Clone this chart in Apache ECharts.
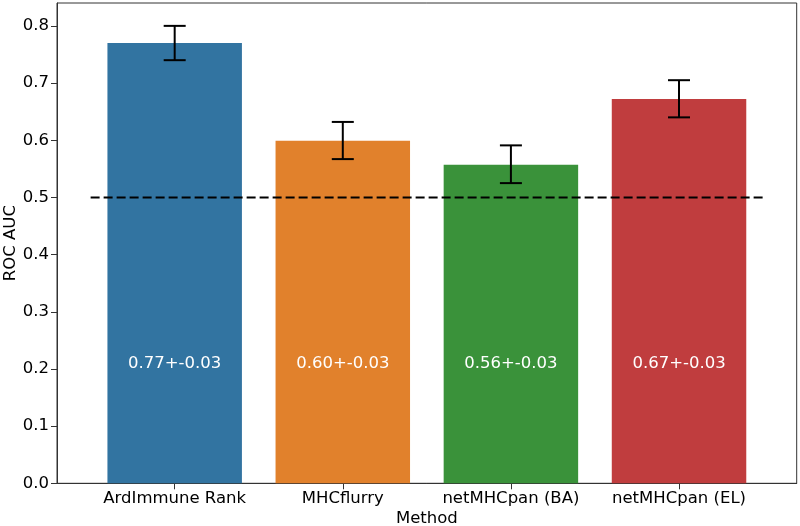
<!DOCTYPE html>
<html>
<head>
<meta charset="utf-8">
<script src="https://cdn.jsdelivr.net/npm/echarts@6/dist/echarts.min.js"></script>
<style>html,body{margin:0;padding:0;background:#fff;}#c{width:800px;height:526px;}</style>
</head>
<body>
<div id="c"></div>
<script>
const categories = ['ArdImmune Rank', 'MHCflurry', 'netMHCpan (BA)', 'netMHCpan (EL)'];
const aucValues = [0.770, 0.599, 0.557, 0.672];
const errLower = [0.740, 0.567, 0.525, 0.640];
const errUpper = [0.800, 0.632, 0.591, 0.705];
const valueLabels = ['0.77+-0.03', '0.60+-0.03', '0.56+-0.03', '0.67+-0.03'];
const barColors = ['#3274a1', '#e1812c', '#3a923a', '#c03d3e'];
const yTicks = [0, 0.1, 0.2, 0.3, 0.4, 0.5, 0.6, 0.7, 0.8];
const xTicks = [0, 1, 2, 3];
const chanceLevel = 0.5;
const labelLevel = 0.2;

const FONT = 'DejaVu Sans';
const FS = 16.5;

const chart = echarts.init(document.getElementById('c'), null, {renderer: 'canvas'});

const barData = aucValues.map((v, i) => [i, v]);
const errData = aucValues.map((v, i) => [i, errLower[i], errUpper[i]]);
const lblData = aucValues.map((v, i) => [i, labelLevel]);

chart.setOption({
  animation: false,
  grid: {left: 57, right: 3.3, top: 3, bottom: 42.7, containLabel: false, outerBoundsMode: 'none',
    show: true, borderColor: '#333', borderWidth: 1, backgroundColor: 'transparent'},
  xAxis: {
    type: 'value', min: -0.7, max: 3.7,
    name: 'Method', nameLocation: 'middle', nameGap: 27, nameMoveOverlap: false,
    nameTextStyle: {fontFamily: FONT, fontSize: FS, color: '#000'},
    axisLine: {show: true, onZero: false, lineStyle: {color: '#333', width: 1}},
    axisTick: {show: true, customValues: xTicks, length: 6, lineStyle: {color: '#333', width: 1}},
    axisLabel: {customValues: xTicks, margin: 7, fontFamily: FONT, fontSize: FS, color: '#000',
      formatter: v => categories[Math.round(v)] || ''},
    splitLine: {show: false}
  },
  yAxis: {
    type: 'value', min: 0, max: 0.84,
    name: 'ROC AUC', nameLocation: 'middle', nameGap: 38, nameRotate: 90, nameMoveOverlap: false,
    nameTextStyle: {fontFamily: FONT, fontSize: FS, color: '#000'},
    axisLine: {show: true, onZero: false, lineStyle: {color: '#333', width: 1}},
    axisTick: {show: true, customValues: yTicks, length: 6, lineStyle: {color: '#333', width: 1}},
    axisLabel: {customValues: yTicks, margin: 8, fontFamily: FONT, fontSize: FS, color: '#000',
      formatter: v => v.toFixed(1)},
    splitLine: {show: false}
  },
  series: [
    {
      type: 'custom', data: barData, z: 2,
      renderItem: (params, api) => {
        const x = api.value(0), y = api.value(1);
        const p1 = api.coord([x - 0.4, y]);
        const p2 = api.coord([x + 0.4, 0]);
        return {type: 'rect', shape: {x: p1[0], y: p1[1], width: p2[0] - p1[0], height: p2[1] - p1[1]},
          style: {fill: barColors[params.dataIndex]}};
      }
    },
    {
      type: 'line', data: [[-0.5, chanceLevel], [3.5, chanceLevel]], z: 3,
      symbol: 'none', lineStyle: {color: '#000', width: 2, type: [9, 4]}
    },
    {
      type: 'custom', data: errData, z: 4,
      renderItem: (params, api) => {
        const x = api.value(0);
        const lo = api.coord([x, api.value(1)]);
        const hi = api.coord([x, api.value(2)]);
        const cap = 11;
        const st = {stroke: '#000', lineWidth: 2};
        return {type: 'group', children: [
          {type: 'line', shape: {x1: lo[0], y1: lo[1], x2: hi[0], y2: hi[1]}, style: st},
          {type: 'line', shape: {x1: lo[0] - cap, y1: lo[1], x2: lo[0] + cap, y2: lo[1]}, style: st},
          {type: 'line', shape: {x1: hi[0] - cap, y1: hi[1], x2: hi[0] + cap, y2: hi[1]}, style: st}
        ]};
      }
    },
    {
      type: 'custom', data: lblData, z: 5,
      renderItem: (params, api) => {
        const p = api.coord([api.value(0), api.value(1)]);
        return {type: 'text', x: p[0], y: p[1] - 5,
          style: {text: valueLabels[params.dataIndex], fill: '#fff', font: FS + 'px ' + FONT,
            textAlign: 'center', textVerticalAlign: 'middle'}};
      }
    }
  ]
});
</script>
</body>
</html>
